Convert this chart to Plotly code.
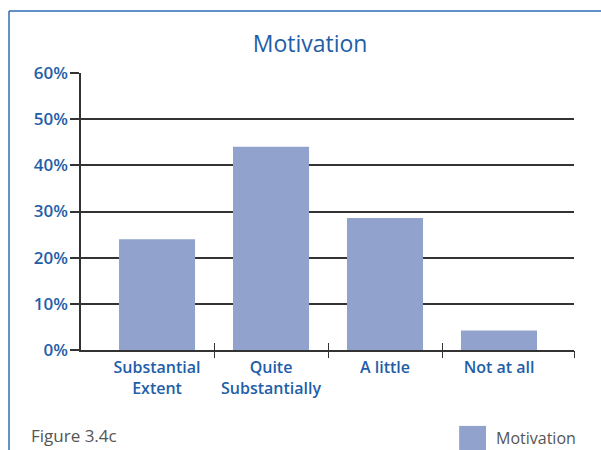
import plotly.graph_objects as go

# Data
CATEGORIES = ["Substantial<br>Extent", "Quite<br>Substantially", "A little", "Not at all"]
MOTIVATION = [24, 44, 28.6, 4.2]
Y_TICKS = [0, 10, 20, 30, 40, 50, 60]
Y_TICK_LABELS = ["0%", "10%", "20%", "30%", "40%", "50%", "60%"]

BLUE_TEXT = "#1f5ea8"
BAR = "#91a3cc"
FRAME = "#2f6db3"
LINE = "#333333"
GREY_TEXT = "#555555"
FONT = "Open Sans, Liberation Sans, sans-serif"

X_RANGE = [-0.667, 3.658]
positions = list(range(len(CATEGORIES)))
boundary_ticks = [p + 0.5 for p in positions[:-1]] + [X_RANGE[1]]

fig = go.Figure()
fig.add_trace(
    go.Bar(
        x=positions,
        y=MOTIVATION,
        width=0.667,
        marker=dict(color=BAR, line=dict(width=0)),
        name="Motivation",
        showlegend=False,
        hovertemplate="%{y}%<extra></extra>",
    )
)

tick_axis = dict(
    range=X_RANGE,
    overlaying="x",
    tickmode="array",
    tickvals=boundary_ticks,
    showticklabels=False,
    ticklen=7,
    tickwidth=1.2,
    tickcolor=LINE,
    showgrid=False,
    zeroline=False,
    showline=False,
)

fig.update_layout(
    width=601,
    height=450,
    paper_bgcolor="white",
    plot_bgcolor="white",
    font=dict(family=FONT, color=BLUE_TEXT),
    margin=dict(l=81, r=27, t=73, b=100),
    title=dict(
        text="Motivation",
        x=0.516,
        xanchor="center",
        y=0.902,
        yanchor="middle",
        font=dict(size=23, color=BLUE_TEXT, family=FONT),
    ),
    xaxis=dict(
        range=X_RANGE,
        tickmode="array",
        tickvals=positions,
        ticktext=CATEGORIES,
        ticks="",
        ticklabelstandoff=2,
        tickfont=dict(size=16, color=BLUE_TEXT, family=FONT, weight=600),
        showgrid=False,
        zeroline=False,
        showline=True,
        linecolor=LINE,
        linewidth=1.5,
    ),
    xaxis2=dict(ticks="outside", **tick_axis),
    xaxis3=dict(ticks="inside", **tick_axis),
    yaxis=dict(
        range=[0, 60],
        tickmode="array",
        tickvals=Y_TICKS,
        ticktext=Y_TICK_LABELS,
        ticks="outside",
        ticklen=9,
        tickwidth=1.5,
        tickcolor=LINE,
        ticklabelstandoff=-1,
        tickfont=dict(size=17, color=BLUE_TEXT, family=FONT, weight=600),
        showgrid=True,
        gridcolor=LINE,
        gridwidth=1.5,
        zeroline=False,
        showline=True,
        linecolor=LINE,
        linewidth=1.5,
    ),
    showlegend=False,
)

# Dummy traces so the overlay tick axes get drawn
fig.add_trace(go.Scatter(x=[None], y=[None], xaxis="x2", showlegend=False, hoverinfo="skip"))
fig.add_trace(go.Scatter(x=[None], y=[None], xaxis="x3", showlegend=False, hoverinfo="skip"))

# Blue frame along the top and left of the figure
fig.add_shape(type="line", xref="paper", yref="paper", x0=-0.146, x1=1.1, y0=1.224, y1=1.224,
              line=dict(color=FRAME, width=1.5))
fig.add_shape(type="line", xref="paper", yref="paper", x0=-0.146, x1=-0.146, y0=1.224, y1=-0.4,
              line=dict(color=FRAME, width=1.5))

# Legend swatch + label, and figure caption
fig.add_shape(type="rect", xref="paper", yref="paper", x0=0.767, x1=0.8215, y0=-0.361, y1=-0.274,
              fillcolor=BAR, line=dict(width=0))
fig.add_annotation(text="Motivation", xref="paper", yref="paper", x=0.838, y=-0.318,
                   xanchor="left", yanchor="middle", showarrow=False,
                   font=dict(size=16, color=GREY_TEXT, family=FONT))
fig.add_annotation(text="Figure 3.4c", xref="paper", yref="paper", x=-0.105, y=-0.31,
                   xanchor="left", yanchor="middle", showarrow=False,
                   font=dict(size=17, color=GREY_TEXT, family=FONT))

fig.write_html("out.html", config={"displayModeBar": False},
               post_script="document.body.style.margin='0';")
